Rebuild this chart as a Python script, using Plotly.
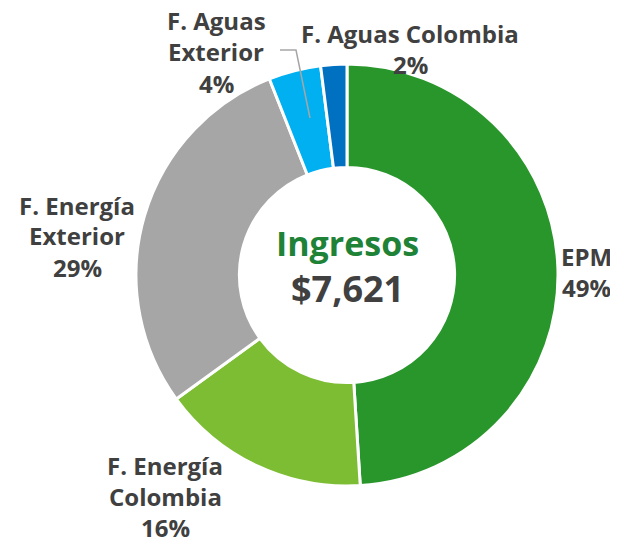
import plotly.graph_objects as go

categories = ["EPM", "F. Energía Colombia", "F. Energía Exterior", "F. Aguas Exterior", "F. Aguas Colombia"]
values = [49, 16, 29, 4, 2]
colors = ["#28962B", "#7CBD34", "#A6A6A6", "#00B0F0", "#0070C0"]
label_lines = [["EPM"], ["F. Energía", "Colombia"], ["F. Energía", "Exterior"], ["F. Aguas", "Exterior"], ["F. Aguas Colombia"]]
center_title = "Ingresos"
center_total = "$7,621"

# page is offset by the 8px body margin; figure fills the rest of the window
OFF = 8
W, H = 618 - OFF, 542 - OFF

def px_x(x):
    return (x - OFF) / W

def px_y(y):
    return 1 - (y - OFF) / H

# label anchor (center x, first line center y) in reference pixels, and line spacing
label_pos = [(586, 256), (165, 465), (77, 205), (216, 21), (410, 33)]
LINE = 31

total = sum(values)
fig = go.Figure(go.Pie(
    labels=categories, values=values, sort=False, direction="clockwise", rotation=0,
    hole=0.51, marker=dict(colors=colors, line=dict(color="white", width=3)),
    textinfo="none", hoverinfo="label+percent", showlegend=False,
    domain=dict(x=[px_x(136), px_x(558)], y=[px_y(486), px_y(64)]),
))

font_fam = "Open Sans"
anns = []
for lines, v, (px, py) in zip(label_lines, values, label_pos):
    pct = f"{round(100 * v / total)}%"
    for i, t in enumerate(lines + [pct]):
        anns.append(dict(x=px_x(px), y=px_y(py + i * LINE), xref="paper", yref="paper",
                         text=t, showarrow=False, xanchor="center", yanchor="middle",
                         borderpad=0,
                         font=dict(family=font_fam, size=24, color="#404040", weight="bold")))

anns.append(dict(x=px_x(347), y=px_y(243), xref="paper", yref="paper", text=center_title,
                 showarrow=False, xanchor="center", yanchor="middle",
                 font=dict(family=font_fam, size=34, color="#1E8237", weight="bold")))
anns.append(dict(x=px_x(347), y=px_y(288), xref="paper", yref="paper", text=center_total,
                 showarrow=False, xanchor="center", yanchor="middle",
                 font=dict(family=font_fam, size=36, color="#404040", weight="bold")))

# leader line for F. Aguas Exterior
pts = [(280, 50), (296, 50), (310, 118)]
path = "M " + " L ".join(f"{px_x(x)},{px_y(y)}" for x, y in pts)
shapes = [dict(type="path", path=path, xref="paper", yref="paper",
               line=dict(color="#A6A6A6", width=1.5))]

fig.update_layout(width=W, height=H, margin=dict(l=0, r=0, t=0, b=0),
                  paper_bgcolor="white", plot_bgcolor="white",
                  annotations=anns, shapes=shapes)
fig.write_html("out.html")
